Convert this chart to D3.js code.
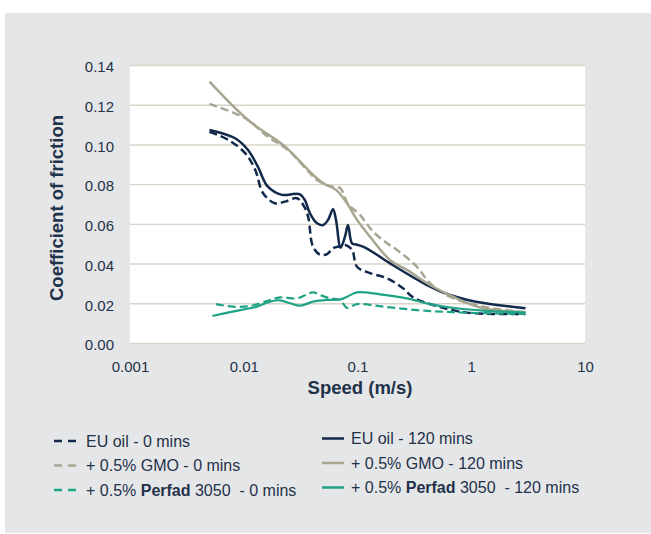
<!DOCTYPE html>
<html>
<head>
<meta charset="utf-8">
<script src="https://cdn.jsdelivr.net/npm/d3@7"></script>
<style>
  body { margin: 0; background: #fff; }
  svg text { font-family: "Liberation Sans", Arial, sans-serif; fill: #1f3249; }
</style>
</head>
<body>
<div id="chart"></div>
<script>
// tick values and labels
const speedTicks = [0.001, 0.01, 0.1, 1, 10];
const speedTickLabels = ["0.001", "0.01", "0.1", "1", "10"];
const cofTicks = [0, 0.02, 0.04, 0.06, 0.08, 0.10, 0.12, 0.14];
const cofTickLabels = ["0.00", "0.02", "0.04", "0.06", "0.08", "0.10", "0.12", "0.14"];

// [speed (m/s), coefficient of friction]
const euOil0 = [[0.005,0.1064],[0.0073,0.1023],[0.0103,0.0956],[0.0126,0.0872],[0.0148,0.0754],[0.0188,0.0704],
  [0.0231,0.0712],[0.0294,0.0729],[0.0345,0.068],[0.037,0.063],[0.0406,0.0485],[0.0468,0.0445],[0.054,0.0448],
  [0.0609,0.0477],[0.0702,0.0487],[0.078,0.0494],[0.0895,0.047],[0.099,0.0384],[0.129,0.0352],[0.182,0.0326],
  [0.251,0.0276],[0.308,0.023],[0.5,0.0186],[0.92,0.0153],[3,0.0146]];
const gmo0 = [[0.005,0.1204],[0.0103,0.1132],[0.0163,0.1039],[0.0245,0.0972],[0.036,0.0872],[0.0441,0.0821],
  [0.0573,0.079],[0.0702,0.078],[0.0825,0.07],[0.105,0.0645],[0.137,0.0561],[0.182,0.0502],[0.222,0.0469],
  [0.333,0.0384],[0.434,0.0301],[0.65,0.0233],[1.27,0.0183],[3,0.0155]];
const perfad0 = [[0.0057,0.0196],[0.008,0.0183],[0.0113,0.0186],[0.0163,0.0213],[0.0208,0.023],[0.0294,0.0225],
  [0.0406,0.0255],[0.0468,0.0242],[0.0573,0.0225],[0.0702,0.0217],[0.0809,0.0177],[0.099,0.0196],[0.168,0.0183],
  [0.333,0.0166],[0.691,0.0155],[3,0.0146]];
const euOil120 = [[0.005,0.1073],[0.0084,0.1031],[0.0109,0.0972],[0.0133,0.0888],[0.0163,0.0787],[0.0217,0.0746],
  [0.0282,0.0751],[0.0313,0.0748],[0.0345,0.072],[0.0382,0.0653],[0.0441,0.0603],[0.0498,0.0594],[0.0551,0.062],
  [0.0609,0.0673],[0.0647,0.062],[0.071,0.048],[0.0776,0.0535],[0.0825,0.0594],[0.0895,0.0502],[0.099,0.0495],
  [0.12,0.0477],[0.193,0.0401],[0.408,0.0292],[0.65,0.0242],[1.1,0.0208],[3,0.0175]];
const gmo120 = [[0.005,0.1316],[0.0109,0.1123],[0.0231,0.0989],[0.0345,0.0888],[0.0423,0.0838],[0.0498,0.0805],
  [0.0647,0.0771],[0.0809,0.0704],[0.099,0.062],[0.129,0.0535],[0.193,0.0418],[0.272,0.0368],[0.434,0.0292],
  [0.691,0.0233],[1.27,0.0175],[3,0.0155]];
const perfad120 = [[0.0053,0.0136],[0.008,0.0158],[0.0113,0.0175],[0.0126,0.018],[0.017,0.0208],[0.0208,0.0215],
  [0.0255,0.02],[0.0313,0.0188],[0.0406,0.0208],[0.054,0.0217],[0.0702,0.0219],[0.081,0.0233],[0.099,0.0255],
  [0.158,0.0245],[0.272,0.0225],[0.434,0.0196],[0.75,0.0175],[1.27,0.0163],[3,0.0153]];

const navy = "#13294b", khaki = "#a8a592", teal = "#1fa386";

const series = [
  {data: euOil0, color: navy, dashed: true},
  {data: gmo0, color: khaki, dashed: true},
  {data: perfad0, color: teal, dashed: true},
  {data: euOil120, color: navy, dashed: false},
  {data: gmo120, color: khaki, dashed: false},
  {data: perfad120, color: teal, dashed: false}
];

const W = 651, H = 534;
const plot = {left: 130, right: 585, top: 65, bottom: 343};

const svg = d3.select("#chart").append("svg")
    .attr("width", W).attr("height", H);

// grey panel behind everything
svg.append("rect")
    .attr("x", 5).attr("y", 13).attr("width", W - 5).attr("height", 520)
    .attr("fill", "#e5e6e8");

svg.append("rect")
    .attr("x", plot.left).attr("y", plot.top)
    .attr("width", plot.right - plot.left).attr("height", plot.bottom - plot.top)
    .attr("fill", "#fff");

const x = d3.scaleLog().domain([0.001, 10]).range([plot.left, plot.right]);
const y = d3.scaleLinear().domain([0, 0.14]).range([plot.bottom, plot.top]);

// gridlines
svg.append("g")
    .attr("transform", `translate(${plot.left},0)`)
    .call(d3.axisLeft(y).tickValues(cofTicks).tickSize(-(plot.right - plot.left)).tickFormat(""))
    .call(g => g.select(".domain").remove())
    .call(g => g.selectAll("line").attr("stroke", "#d7d5c8").attr("stroke-width", 1.4));

// y tick labels
svg.append("g")
    .attr("transform", `translate(${plot.left},2)`)
    .call(d3.axisLeft(y).tickValues(cofTicks).tickSize(0).tickPadding(16)
        .tickFormat((d, i) => cofTickLabels[i]))
    .call(g => g.select(".domain").remove())
    .call(g => g.selectAll("text").style("font-size", "15px").attr("fill", "#1f3249"));

// x tick labels
svg.append("g")
    .attr("transform", `translate(0,${plot.bottom})`)
    .call(d3.axisBottom(x).tickValues(speedTicks).tickSize(0).tickPadding(18)
        .tickFormat((d, i) => speedTickLabels[i]))
    .call(g => g.select(".domain").remove())
    .call(g => g.selectAll("text").style("font-size", "15px").attr("fill", "#1f3249"));

// axis titles
svg.append("text")
    .attr("transform", "translate(63,208) rotate(-90)")
    .attr("text-anchor", "middle")
    .style("font-size", "18.5px").style("font-weight", "bold")
    .text("Coefficient of friction");

svg.append("text")
    .attr("x", 360).attr("y", 394)
    .attr("text-anchor", "middle")
    .style("font-size", "18.5px").style("font-weight", "bold")
    .text("Speed (m/s)");

// curves
const line = d3.line()
    .x(d => x(d[0]))
    .y(d => y(d[1]))
    .curve(d3.curveCatmullRom.alpha(0.5));

svg.append("g").selectAll("path")
    .data(series)
    .join("path")
    .attr("d", d => line(d.data))
    .attr("fill", "none")
    .attr("stroke", d => d.color)
    .attr("stroke-width", d => d.color === teal ? 2.2 : 2.5)
    .attr("stroke-dasharray", d => d.dashed ? "8,4" : null);

// legend
const legendLeft = [
  {color: navy, y: 441, parts: [["EU oil - 0 mins", false]]},
  {color: khaki, y: 465.5, parts: [["+ 0.5% GMO - 0 mins", false]]},
  {color: teal, y: 490, parts: [["+ 0.5% ", false], ["Perfad", true], [" 3050  - 0 mins", false]]}
];
const legendRight = [
  {color: navy, y: 438.5, parts: [["EU oil - 120 mins", false]]},
  {color: khaki, y: 463, parts: [["+ 0.5% GMO - 120 mins", false]]},
  {color: teal, y: 487.5, parts: [["+ 0.5% ", false], ["Perfad", true], [" 3050  - 120 mins", false]]}
];

function drawLegend(items, x0, dashed) {
  const g = svg.append("g");
  items.forEach(it => {
    g.append("line")
        .attr("x1", x0).attr("x2", x0 + 22)
        .attr("y1", it.y).attr("y2", it.y)
        .attr("stroke", it.color).attr("stroke-width", 2.5)
        .attr("stroke-dasharray", dashed ? "8,6" : null);
    const t = g.append("text")
        .attr("x", x0 + (dashed ? 32 : 29)).attr("y", it.y)
        .attr("dy", "0.35em")
        .style("font-size", "16px")
        .style("white-space", "pre");
    it.parts.forEach(p => {
      t.append("tspan").text(p[0]).style("font-weight", p[1] ? "bold" : "normal");
    });
  });
}
drawLegend(legendLeft, 54, true);
drawLegend(legendRight, 322, false);
</script>
</body>
</html>
